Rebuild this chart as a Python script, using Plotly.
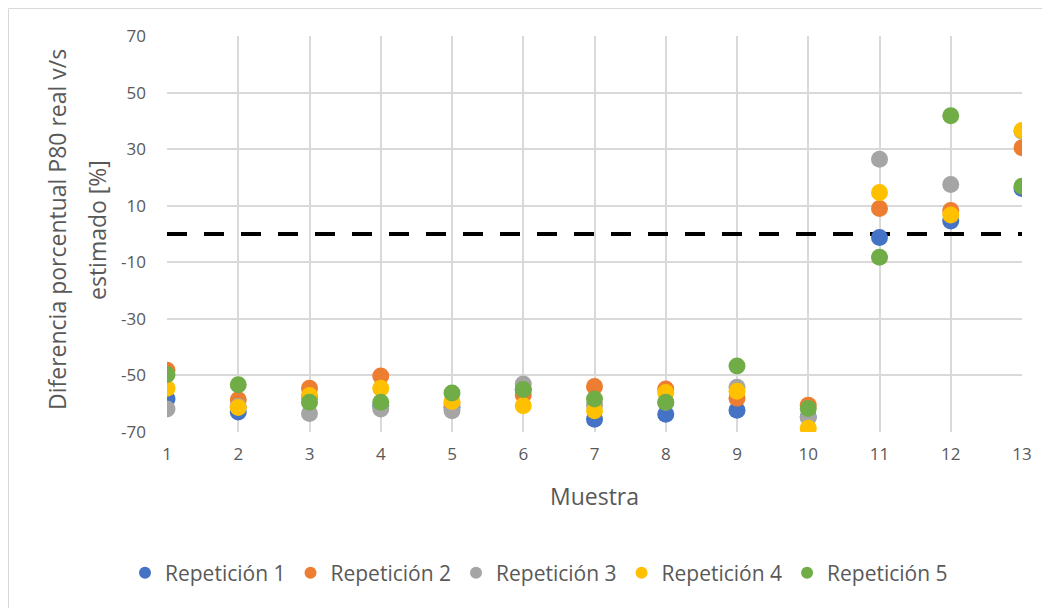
import plotly.graph_objects as go

muestra = list(range(1, 14))
rep1 = [-58.3, -62.9, -57.5, -60.8, -61.3, -55.0, -65.5, -63.7, -62.3, -64.6, -1.2, 4.6, 16.1]
rep2 = [-48.2, -58.6, -54.5, -50.2, -60.0, -56.9, -53.9, -54.8, -58.1, -60.5, 9.0, 8.3, 30.5]
rep3 = [-61.9, -61.0, -63.5, -61.9, -62.5, -53.0, -60.5, -59.5, -54.2, -64.9, 26.4, 17.5, 36.3]
rep4 = [-54.5, -61.3, -57.1, -54.5, -59.2, -60.7, -62.5, -56.0, -55.6, -68.7, 14.7, 6.7, 36.6]
rep5 = [-49.7, -53.3, -59.5, -59.5, -56.2, -55.0, -58.3, -59.5, -46.7, -61.7, -8.2, 41.8, 16.9]
ref_line = [0, 0]
ref_x = [1, 13]
y_ticks = [-70, -50, -30, -10, 10, 30, 50, 70]
y_tick_labels = ["-70", "-50", "-30", "-10", "10", "30", "50", "70"]
y_title_lines = ["Diferencia porcentual P80 real v/s", "estimado [%]"]

names = ["Repetición 1", "Repetición 2", "Repetición 3", "Repetición 4", "Repetición 5"]
colors = ["#4472C4", "#ED7D31", "#A5A5A5", "#FFC000", "#70AD47"]
series = [rep1, rep2, rep3, rep4, rep5]

fig = go.Figure()
fig.add_trace(go.Scatter(x=ref_x, y=ref_line, mode="lines",
                         line=dict(color="black", width=4, dash="20px,17px"),
                         showlegend=False, hoverinfo="skip"))
for n, c, s in zip(names, colors, series):
    fig.add_trace(go.Scatter(x=muestra, y=s, mode="markers", name=n,
                             marker=dict(color=c, size=17, line=dict(width=0))))

font_family = "Open Sans, sans-serif"
W, H = 1042, 600
L, R, T, B = 159, 28, 28, 176
pw, ph = W - L - R, H - T - B
title_font = dict(size=23, color="#595959", family=font_family)
fig.update_layout(
    width=W, height=H,
    paper_bgcolor="white", plot_bgcolor="white",
    margin=dict(l=L, r=R, t=T, b=B, autoexpand=False),
    font=dict(family=font_family, color="#595959", size=17),
    xaxis=dict(range=[1, 13], tickvals=muestra, ticktext=[str(m) for m in muestra],
               showgrid=True, gridcolor="#D9D9D9", gridwidth=1.5,
               zeroline=False, showline=False, ticks="", ticklabelstandoff=10,
               tickfont=dict(size=17, color="#595959"),
               title=dict(text="Muestra", font=title_font, standoff=24)),
    yaxis=dict(range=[-70, 70], tickvals=y_ticks, ticktext=y_tick_labels,
               showgrid=True, gridcolor="#D9D9D9", gridwidth=1.5,
               zeroline=False, showline=False, ticks="", ticklabelstandoff=20,
               tickfont=dict(size=17, color="#595959")),
    annotations=[
        dict(text=y_title_lines[0], xref="paper", yref="paper",
             x=-(L - 49) / pw, y=(T + ph - 222) / ph, textangle=-90,
             xanchor="center", yanchor="middle", showarrow=False, font=title_font),
        dict(text=y_title_lines[1], xref="paper", yref="paper",
             x=-(L - 89) / pw, y=(T + ph - 222) / ph, textangle=-90,
             xanchor="center", yanchor="middle", showarrow=False, font=title_font),
    ],
    legend=dict(orientation="h", x=(531 - L) / pw, xanchor="center",
                y=-(565 - (T + ph)) / ph, yanchor="middle",
                font=dict(size=21, color="#595959"), itemwidth=30, tracegroupgap=0,
                itemsizing="constant"),
    shapes=[dict(type="rect", xref="paper", yref="paper",
                 x0=-(L - 0.5) / pw, x1=1 + (R + 5) / pw, y0=-(B + 5) / ph, y1=1 + (T - 0.5) / ph,
                 line=dict(color="#D9D9D9", width=1))],
)
fig.write_html("out.html")
